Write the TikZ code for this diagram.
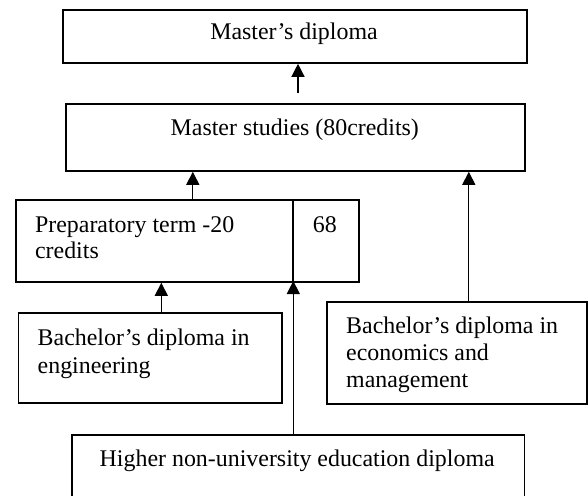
\documentclass[tikz,border=0pt]{standalone}
\usepackage{fontspec}
\setmainfont{Liberation Serif}
\usetikzlibrary{arrows.meta}
\begin{document}
\begin{tikzpicture}[x=1pt,y=-1pt,
  box/.style={draw,line width=1.8pt,rectangle,inner sep=0pt,anchor=north west},
  txt/.style={inner sep=0pt,font=\fontsize{23.9}{27}\selectfont},
  conn/.style={line width=1.3pt,-{Triangle[length=13pt,width=13pt]}}]
\useasboundingbox (0,0) rectangle (588,495);
\clip (0,0) rectangle (588,495);
% boxes
\node[box,minimum width=463.5pt,minimum height=53pt] (md) at (62.3,9) {};
\node[box,minimum width=459pt,minimum height=67pt] (ms) at (65.3,103) {};
\node[box,minimum width=343pt,minimum height=82pt] (pt) at (15,199) {};
\node[box,minimum width=263.7pt,minimum height=90pt] (be) at (17.6,312) {};
\node[box,minimum width=260.5pt,minimum height=102pt] (bm) at (325.9,301) {};
\node[box,minimum width=452.2pt,minimum height=90pt] (hn) at (71.3,434) {};
\coordinate (divt) at (293.3,199);
\coordinate (divb) at (293.3,281);
\draw[line width=1.8pt] (divt) -- (divb);
% texts
\node[txt,anchor=base] (t1) at (294,40) {Master’s diploma};
\node[txt,anchor=base] (t2) at (294.8,135) {Master studies (80credits)};
\node[txt,anchor=base west] (t3) at (34.9,232) {Preparatory term -20};
\node[txt,anchor=base west] (t4) at (34.9,258.5) {credits};
\node[txt,anchor=base] (t5) at (324.8,232) {68};
\node[txt,anchor=base west] (t6) at (37.5,345) {Bachelor’s diploma in};
\node[txt,anchor=base west] (t7) at (37.5,373) {engineering};
\node[txt,anchor=base west] (t8) at (346,333) {Bachelor’s diploma in};
\node[txt,anchor=base west] (t9) at (346,360) {economics and};
\node[txt,anchor=base west] (t10) at (346,387) {management};
\node[txt,anchor=base] (t11) at (297.2,466) {Higher non-university education diploma};
% connectors
\coordinate (a1) at (298,93);
\draw[conn] (a1) -- (md.south -| a1);
\draw[conn] (pt.north -| 192.8,0) -- (ms.south -| 192.8,0);
\draw[conn] (bm.north -| 468.8,0) -- (ms.south -| 468.8,0);
\draw[conn] (be.north -| 161.3,0) -- (pt.south -| 161.3,0);
\draw[conn] (hn.north -| divb) -- (divb);
\end{tikzpicture}
\end{document}
